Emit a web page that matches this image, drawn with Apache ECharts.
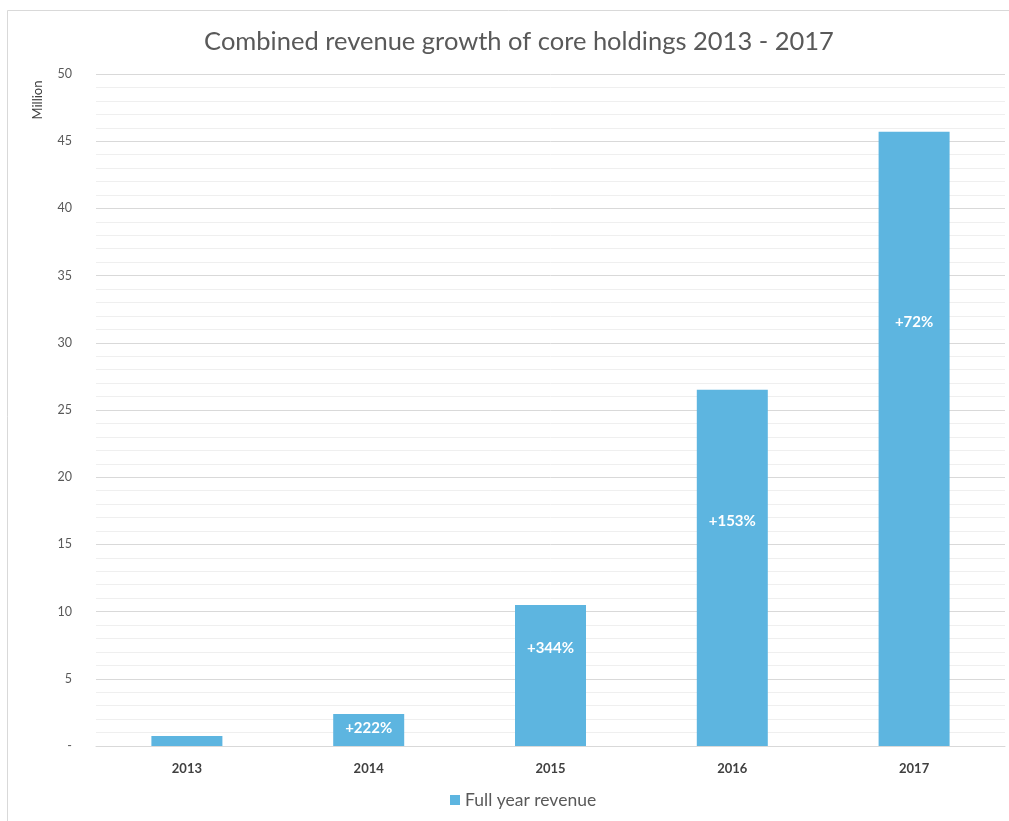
<!DOCTYPE html>
<html><head><meta charset="utf-8">
<script src="https://cdn.jsdelivr.net/npm/echarts@6/dist/echarts.min.js"></script>
<style>html,body{margin:0;padding:0;background:#fff}#c{width:1009px;height:821px}</style>
</head><body><div id="c"></div>
<script>
const years = ['2013', '2014', '2015', '2016', '2017'];
const revenue = [0.74, 2.38, 10.5, 26.5, 45.7];
const growthLabels = ['', '+222%', '+344%', '+153%', '+72%'];
const seriesName = 'Full year revenue';
const titleText = 'Combined revenue growth of core holdings 2013 - 2017';
const yAxisTitle = 'Million';

// styling: label vertical placement within bar (percent from bar top)
const labelTopPct = ['30%', '45%', '31%', '37%', '31%'];

const chart = echarts.init(document.getElementById('c'));
chart.setOption({
  backgroundColor: '#fff',
  animation: false,
  title: {
    text: titleText, left: 514, textAlign: 'center', top: 24,
    textStyle: { fontFamily: 'Lato', fontSize: 25.5, fontWeight: 'normal', color: '#595959' }
  },
  graphic: [{
    type: 'rect', shape: { x: 7.5, y: 10.5, width: 1100, height: 900 },
    style: { fill: 'none', stroke: '#d9d9d9', lineWidth: 1 }, silent: true
  }, {
    type: 'text', x: 38, y: 100, rotation: Math.PI / 2,
    style: { text: yAxisTitle, fontFamily: 'Lato', fontSize: 13, fill: '#404040',
      align: 'center', verticalAlign: 'middle' }, silent: true
  }],
  legend: {
    bottom: 7, left: 445, icon: 'rect', itemWidth: 10, itemHeight: 10, itemGap: 5,
    textStyle: { fontFamily: 'Lato', fontSize: 17.5, color: '#595959' },
    data: [seriesName]
  },
  grid: { left: 96, right: 4, top: 74, bottom: 75 },
  xAxis: {
    type: 'category', data: years,
    axisLine: { lineStyle: { color: '#d9d9d9' } },
    axisTick: { show: false },
    axisLabel: { fontFamily: 'Lato', fontSize: 13, fontWeight: 'bold', color: '#404040', margin: 16 }
  },
  yAxis: {
    type: 'value', min: 0, max: 50, interval: 5,
    axisLine: { show: false }, axisTick: { show: false },
    axisLabel: { fontFamily: 'Lato', fontSize: 12.5, color: '#595959', margin: 24,
      formatter: v => v === 0 ? '-' : String(v) },
    splitLine: { lineStyle: { color: '#d9d9d9' } },
    minorTick: { show: false, splitNumber: 5 },
    minorSplitLine: { show: true, lineStyle: { color: '#efefef' } }
  },
  series: [{
    name: seriesName, type: 'bar', barWidth: 71,
    itemStyle: { color: '#5db5e0' },
    data: revenue.map((v, i) => ({
      value: v,
      label: { show: growthLabels[i] !== '', position: ['50%', labelTopPct[i]] }
    })),
    label: {
      align: 'center', verticalAlign: 'middle',
      color: '#fff', fontFamily: 'Lato', fontSize: 15, fontWeight: 'bold',
      formatter: p => growthLabels[p.dataIndex]
    }
  }]
});
</script></body></html>
